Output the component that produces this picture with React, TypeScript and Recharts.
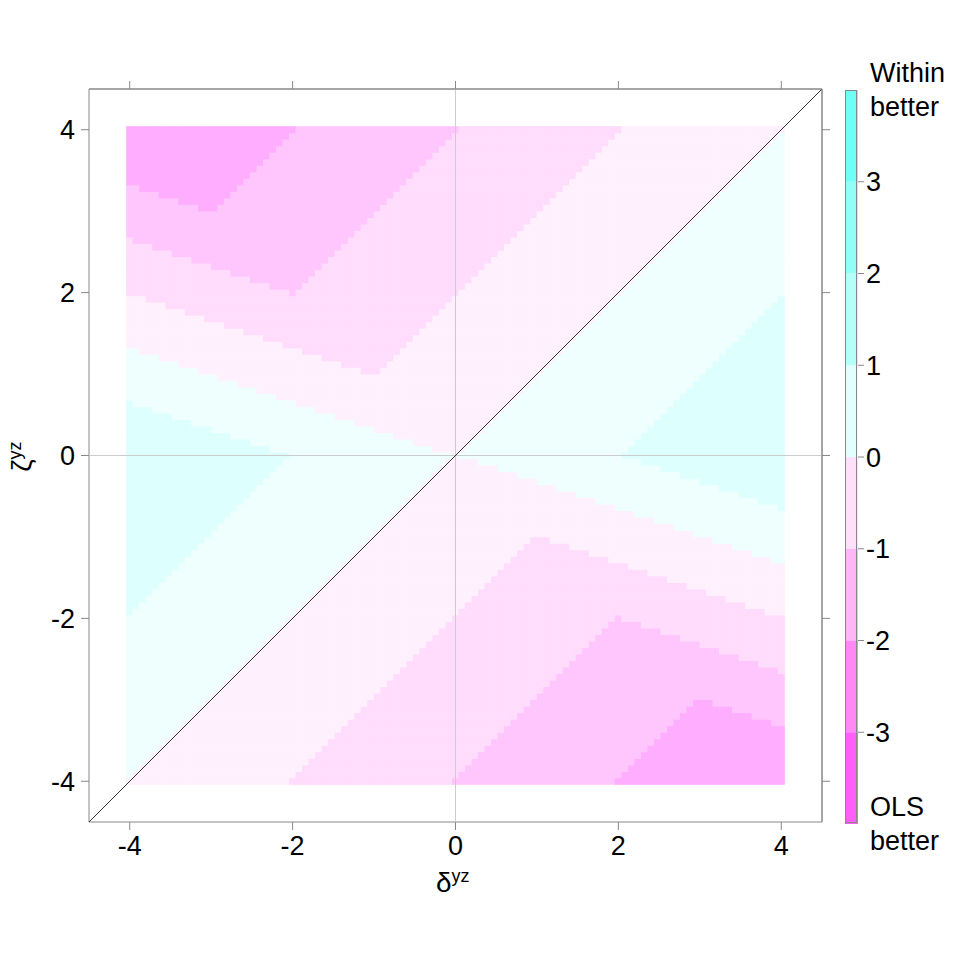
import { ScatterChart, Scatter, XAxis, YAxis, ReferenceLine, BarChart, Bar } from "recharts";

// contour levels and colours (from -4 up to 4)
const levels = [-4, -3, -2, -1, 0, 1, 2, 3, 4];
const plotColors = ["#ffaeff", "#ffc6fd", "#ffdcfc", "#fff0fd", "#effffe", "#ddfffe", "#c6fffd", "#a8fffc"];
const barColors = ["#ff5ef8", "#ff88f5", "#ffb6f8", "#ffe0fa", "#e2fffe", "#b4fffa", "#90fff7", "#6efff6"];
const ticks = [-4, -2, 0, 2, 4];
const barTicks = [-3, -2, -1, 0, 1, 2, 3];

// grid of delta / zeta values on which the surface was evaluated
const step = 0.08;
const gridVals: number[] = [];
for (let i = 0; i <= 100; i++) gridVals.push(+(-4 + i * step).toFixed(2));

// relative efficiency surface (Within vs OLS)
const surface = (d: number, z: number) => {
  const u = z - d;
  const w = 3 * z + d;
  const s = u * w > 0 ? -1 : 1;
  return (s * Math.min(Math.abs(u), Math.abs(w))) / 2;
};

const cells: { x: number; y: number; band: number }[] = [];
gridVals.forEach((d) =>
  gridVals.forEach((z) => {
    const f = surface(d, z);
    let b = Math.ceil(f - 1e-9) + 3;
    if (b < 0) b = 0;
    if (b > 7) b = 7;
    cells.push({ x: d, y: z, band: b });
  })
);

const barRow = [{ name: "c", ...Object.fromEntries(barColors.map((_, i) => [`b${i}`, levels[i] < 0 ? -1 : 1])) }];
const barOrder = [3, 2, 1, 0, 4, 5, 6, 7];

const pxPerUnit = 733 / 9;
const cellPx = step * pxPerUnit + 0.6;

const font = "Liberation Sans, Arial, sans-serif";
const tickStyle = { fontSize: 27, fill: "#000", fontFamily: font };
const noTick = () => <g />;
const margins = { top: 79, left: 29, right: 128, bottom: 78 };

const Cell = (props: any) => {
  const { cx, cy, payload } = props;
  return (
    <rect x={cx - cellPx / 2} y={cy - cellPx / 2} width={cellPx} height={cellPx} fill={plotColors[payload.band]} />
  );
};

const Axes = ({ show }: { show: boolean }) => [
  <XAxis key="xb" xAxisId="b" type="number" dataKey="x" domain={[-4.5, 4.5]} ticks={ticks} height={60}
    tick={show ? tickStyle : noTick} tickSize={8} stroke={show ? "#888" : "none"} tickMargin={6} allowDataOverflow />,
  <XAxis key="xt" xAxisId="t" orientation="top" type="number" dataKey="x" domain={[-4.5, 4.5]} ticks={ticks}
    height={10} tick={noTick} tickSize={8} stroke={show ? "#888" : "none"} allowDataOverflow />,
  <YAxis key="yl" yAxisId="l" type="number" dataKey="y" domain={[-4.5, 4.5]} ticks={ticks} width={60}
    tick={show ? tickStyle : noTick} tickSize={8} stroke={show ? "#888" : "none"} tickMargin={6} allowDataOverflow />,
  <YAxis key="yr" yAxisId="r" orientation="right" type="number" dataKey="y" domain={[-4.5, 4.5]} ticks={ticks}
    width={10} tick={noTick} tickSize={8} stroke={show ? "#888" : "none"} allowDataOverflow />,
];

export default function App() {
  return (
    <div style={{ position: "absolute", left: 0, top: 0, width: 960, height: 960, background: "#fff", fontFamily: font }}>
      <div style={{ position: "absolute", left: 0, top: 0 }}>
        <ScatterChart width={960} height={960} margin={margins}>
          {Axes({ show: true })}
          <Scatter data={cells} xAxisId="b" yAxisId="l" shape={Cell} isAnimationActive={false} />
        </ScatterChart>
      </div>
      <div style={{ position: "absolute", left: 0, top: 0 }}>
        <ScatterChart width={960} height={960} margin={margins}>
          {Axes({ show: false })}
          <Scatter data={[]} xAxisId="b" yAxisId="l" isAnimationActive={false} />
          <ReferenceLine xAxisId="b" yAxisId="l" x={0} stroke="#cccccc" strokeWidth={1} />
          <ReferenceLine xAxisId="b" yAxisId="l" y={0} stroke="#cccccc" strokeWidth={1} />
          <ReferenceLine xAxisId="b" yAxisId="l" segment={[{ x: -4.5, y: -4.5 }, { x: 4.5, y: 4.5 }]} stroke="#333" strokeWidth={1} />
          <ReferenceLine xAxisId="b" yAxisId="l" x={4.5} stroke="#888" />
          <ReferenceLine xAxisId="b" yAxisId="l" y={4.5} stroke="#888" />
        </ScatterChart>
      </div>
      <div style={{ position: "absolute", left: 0, top: 0 }}>
        <BarChart width={960} height={960} data={barRow} stackOffset="sign" barCategoryGap={0}
          margin={{ top: 90, left: 845, right: 2, bottom: 136 }}>
          <XAxis dataKey="name" hide />
          <YAxis orientation="right" type="number" domain={[-4, 4]} ticks={barTicks} width={100}
            tick={tickStyle} tickSize={6} stroke="#888" tickMargin={2} axisLine={false} />
          {barOrder.map((i) => (
            <Bar key={i} dataKey={`b${i}`} stackId="s" fill={barColors[i]} isAnimationActive={false} />
          ))}
        </BarChart>
      </div>
      <div style={{ position: "absolute", left: 845, top: 90, width: 12, height: 733, border: "1px solid #888", boxSizing: "border-box" }} />
      <div style={{ position: "absolute", left: 870, top: 56, fontSize: 27, lineHeight: "34px" }}>Within<br />better</div>
      <div style={{ position: "absolute", left: 870, top: 790, fontSize: 27, lineHeight: "34px" }}>OLS<br />better</div>
      <div style={{ position: "absolute", left: 436, top: 866, fontSize: 28 }}>
        δ<sup style={{ fontSize: 18 }}>yz</sup>
      </div>
      <div style={{ position: "absolute", left: 6, top: 440, fontSize: 28, transform: "rotate(-90deg)", transformOrigin: "center" }}>
        ζ<sup style={{ fontSize: 18 }}>yz</sup>
      </div>
    </div>
  );
}
